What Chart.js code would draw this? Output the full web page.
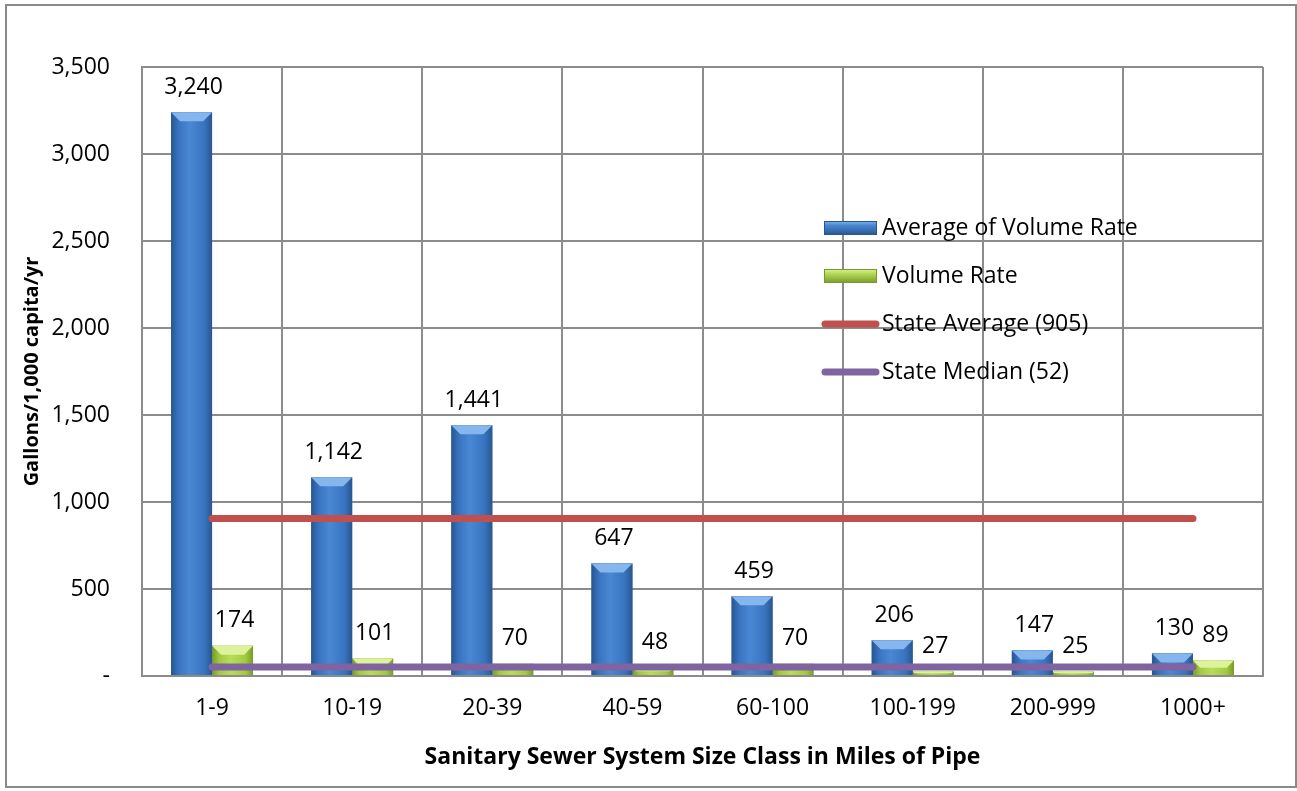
<!DOCTYPE html>
<html>
<head>
<meta charset="utf-8">
<title>Volume rate by system size</title>
<script src="https://cdn.jsdelivr.net/npm/chart.js@4.4.1/dist/chart.umd.min.js"></script>
<style>
  html, body { margin: 0; padding: 0; background: #fff; }
  #wrap { width: 1297px; height: 791px; position: relative; }
</style>
</head>
<body>
<div id="wrap"><canvas id="sewerChart" width="1297" height="791"></canvas></div>
<script>
// data
const sizeClasses = ['1-9', '10-19', '20-39', '40-59', '60-100', '100-199', '200-999', '1000+'];
const avgVolumeRate = [3240, 1142, 1441, 647, 459, 206, 147, 130];
const volumeRate = [174, 101, 70, 48, 70, 27, 25, 89];
const stateAverage = [905, 905, 905, 905, 905, 905, 905, 905];
const stateMedian = [52, 52, 52, 52, 52, 52, 52, 52];

const FONT = '"Open Sans", "Noto Sans", sans-serif';
const TXT = 23;
const GRID = '#8c8c8c';

// bevel colours for the two bar series
const barStyles = {
    0: { dark: '#28568f', mid: '#3873bf', light: '#4a88d4', top: '#86b6ee' },
    1: { dark: '#789a2a', mid: '#a3c940', light: '#b8dc5a', top: '#dcf29c' }
};

function fmt(v) {
    return v === 0 ? '-' : v.toLocaleString('en-US');
}

// gives the bars the shaded, bevelled look of the original
const bevelPlugin = {
    id: 'bevel',
    afterDatasetDraw(chart, args) {
        const st = barStyles[args.index];
        if (!st) return;
        const ctx = chart.ctx;
        const meta = args.meta;
        ctx.save();
        meta.data.forEach(bar => {
            const w = bar.width;
            const l = bar.x - w / 2, r = bar.x + w / 2;
            const t = Math.min(bar.y, bar.base), b = Math.max(bar.y, bar.base);
            const h = b - t;
            if (h <= 0) return;
            const g = ctx.createLinearGradient(l, 0, r, 0);
            g.addColorStop(0, st.dark);
            g.addColorStop(0.18, st.mid);
            g.addColorStop(0.45, st.light);
            g.addColorStop(0.82, st.mid);
            g.addColorStop(1, st.dark);
            ctx.fillStyle = g;
            ctx.fillRect(l, t, w, h);
            const bv = Math.min(9, h / 2);
            ctx.fillStyle = st.top;
            ctx.beginPath();
            ctx.moveTo(l, t);
            ctx.lineTo(r, t);
            ctx.lineTo(r - bv, t + bv);
            ctx.lineTo(l + bv, t + bv);
            ctx.closePath();
            ctx.fill();
        });
        ctx.restore();
    }
};

// value labels above the bars
const barLabelPlugin = {
    id: 'barLabels',
    afterDatasetsDraw(chart) {
        const ctx = chart.ctx;
        ctx.save();
        ctx.font = TXT + 'px ' + FONT;
        ctx.fillStyle = '#000';
        ctx.textAlign = 'center';
        ctx.textBaseline = 'middle';
        [0, 1].forEach(di => {
            const meta = chart.getDatasetMeta(di);
            meta.data.forEach((bar, i) => {
                const v = chart.data.datasets[di].data[i];
                ctx.fillText(fmt(v), bar.x + 2, bar.y - 25);
            });
        });
        ctx.restore();
    }
};

// legend sits inside the plot area, right of centre
const legendPlugin = {
    id: 'innerLegend',
    afterDraw(chart) {
        const ctx = chart.ctx;
        const x0 = 824, sw = 53, rows = [228, 276, 324, 372];
        ctx.save();
        chart.data.datasets.forEach((ds, i) => {
            const y = rows[i];
            if (ds.type === 'line') {
                ctx.strokeStyle = ds.borderColor;
                ctx.lineWidth = 7;
                ctx.lineCap = 'round';
                ctx.beginPath();
                ctx.moveTo(x0 + 1, y);
                ctx.lineTo(x0 + sw - 1, y);
                ctx.stroke();
            } else {
                const st = barStyles[i];
                const g = ctx.createLinearGradient(0, y - 7, 0, y + 7);
                g.addColorStop(0, st.top);
                g.addColorStop(0.3, st.light);
                g.addColorStop(1, st.dark);
                ctx.fillStyle = g;
                ctx.fillRect(x0, y - 7, sw, 14);
                ctx.strokeStyle = st.dark;
                ctx.lineWidth = 1;
                ctx.strokeRect(x0 + 0.5, y - 6.5, sw - 1, 13);
            }
            ctx.fillStyle = '#000';
            ctx.font = TXT + 'px ' + FONT;
            ctx.textAlign = 'left';
            ctx.textBaseline = 'middle';
            ctx.fillText(ds.label, x0 + sw + 5, y);
        });
        ctx.restore();
    }
};

// thin grey frame round the whole chart
const framePlugin = {
    id: 'frame',
    beforeDraw(chart) {
        const ctx = chart.ctx;
        ctx.save();
        ctx.fillStyle = '#fff';
        ctx.fillRect(0, 0, chart.width, chart.height);
        ctx.strokeStyle = '#8a8a8a';
        ctx.lineWidth = 2;
        ctx.strokeRect(6, 5, 1290, 782);
        ctx.restore();
    }
};

const ctx = document.getElementById('sewerChart').getContext('2d');
new Chart(ctx, {
    type: 'bar',
    data: {
        labels: sizeClasses,
        datasets: [
            { label: 'Average of Volume Rate', data: avgVolumeRate, backgroundColor: '#3873bf', order: 2 },
            { label: 'Volume Rate', data: volumeRate, backgroundColor: '#a3c940', order: 2 },
            { type: 'line', label: 'State Average (905)', data: stateAverage, borderColor: '#c0504d', borderWidth: 7,
              borderCapStyle: 'round', pointRadius: 0, order: 1 },
            { type: 'line', label: 'State Median (52)', data: stateMedian, borderColor: '#8064a2', borderWidth: 7,
              borderCapStyle: 'round', pointRadius: 0, order: 1 }
        ]
    },
    options: {
        responsive: false,
        animation: false,
        devicePixelRatio: 1,
        layout: { padding: { top: 67, right: 34, bottom: 0, left: 0 } },
        datasets: { bar: { categoryPercentage: 0.585, barPercentage: 1.0 } },
        scales: {
            x: {
                grid: { color: GRID, lineWidth: 2, drawTicks: false, offset: true },
                border: { color: GRID, width: 2 },
                ticks: { color: '#000', font: { family: FONT, size: TXT }, padding: 19 },
                title: { display: true, text: 'Sanitary Sewer System Size Class in Miles of Pipe', color: '#000',
                         font: { family: FONT, size: 23, weight: 'bold' }, padding: { top: 4, bottom: 20 } },
                afterFit(scale) { scale.height = 115; }
            },
            y: {
                min: 0,
                max: 3500,
                grid: { color: GRID, lineWidth: 2, drawTicks: false },
                border: { color: GRID, width: 2 },
                ticks: { stepSize: 500, color: '#000', font: { family: FONT, size: TXT }, padding: 32,
                         callback: v => fmt(v) },
                title: { display: true, text: 'Gallons/1,000 capita/yr', color: '#000',
                         font: { family: FONT, size: 20, weight: 'bold' }, padding: { top: 20 } },
                afterFit(scale) { scale.width = 142; }
            }
        },
        plugins: {
            legend: { display: false },
            tooltip: { enabled: false }
        }
    },
    plugins: [framePlugin, bevelPlugin, barLabelPlugin, legendPlugin]
});
</script>
</body>
</html>
